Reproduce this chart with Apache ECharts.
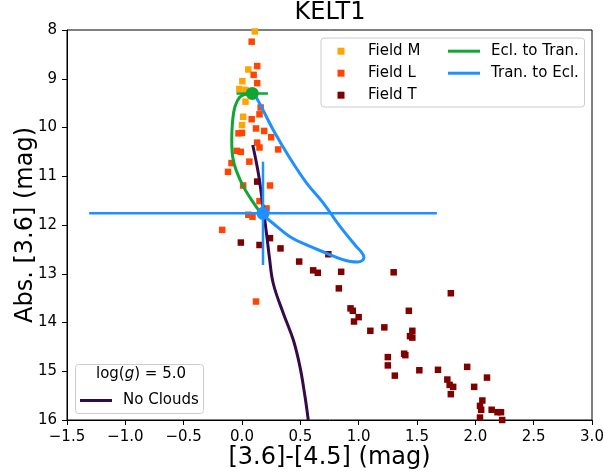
<!DOCTYPE html>
<html>
<head>
<meta charset="utf-8">
<script src="https://cdn.jsdelivr.net/npm/echarts@6/dist/echarts.min.js"></script>
<style>
  html, body { margin: 0; padding: 0; background: #fff; }
  #chart { width: 603px; height: 473px; }
</style>
</head>
<body>
<div id="chart"></div>
<script>
// field brown dwarfs, colour vs absolute [3.6]
var fieldMX = [0.11, 0.054, 0.003, -0.023, 0.03, 0.03, 0.01, 0.0];
var fieldMY = [8.03, 8.81, 9.05, 9.21, 9.23, 9.47, 9.78, 9.95];

var fieldLX = [0.083, 0.13, 0.10, 0.13, 0.16, 0.15, 0.083, 0.12, 0.19, 0.25, -0.03, 0.0, 0.13, 0.15,
               0.31, -0.045, -0.01, 0.063, -0.09, -0.12, 0.01, 0.24, 0.15, 0.21, 0.054, 0.09, -0.17, 0.12];
var fieldLY = [8.24, 8.74, 8.92, 9.09, 9.59, 9.73, 9.83, 10.02, 10.07, 10.2, 10.12, 10.11, 10.31, 10.41,
               10.45, 10.48, 10.5, 10.70, 10.73, 10.91, 11.19, 11.19, 11.51, 11.66, 11.79, 11.83, 12.10, 13.57];

var fieldTX = [0.13, -0.01, 0.15, 0.24, 0.33, 0.74, 0.49, 0.61, 0.65, 0.85, 1.30, 0.83, 1.79, 0.93, 0.95,
               1.0, 0.96, 1.43, 1.10, 1.22, 1.46, 1.44, 1.46, 1.39, 1.40, 1.25, 1.25, 1.31, 1.52, 1.68,
               1.93, 2.10, 1.76, 1.78, 1.81, 1.79, 1.99, 2.06, 2.04, 2.05, 2.14, 2.19, 2.22, 2.04, 2.23];
var fieldTY = [11.11, 12.36, 12.41, 12.27, 12.48, 12.60, 12.75, 12.93, 12.98, 12.96, 12.97, 13.30, 13.40, 13.71, 13.76,
               13.89, 13.98, 13.76, 14.17, 14.10, 14.17, 14.28, 14.31, 14.64, 14.67, 14.71, 14.88, 15.09, 14.98, 14.97,
               14.91, 15.13, 15.17, 15.28, 15.32, 15.47, 15.32, 15.60, 15.71, 15.79, 15.79, 15.84, 15.84, 15.95, 16.0];

// phase curves of KELT1
var eclX = [0.088, 0.03, -0.02, -0.06, -0.08, -0.088, -0.075, -0.003, 0.083, 0.154, 0.18];
var eclY = [9.30, 9.32, 9.38, 9.57, 9.85, 10.26, 10.67, 11.14, 11.49, 11.73, 11.79];

var tranX = [0.088, 0.126, 0.268, 0.411, 0.554, 0.697, 0.840, 0.983, 1.025, 1.045, 1.03, 0.99, 0.93, 0.85, 0.726, 0.554, 0.411, 0.268, 0.18];
var tranY = [9.30, 9.40, 10.05, 10.63, 11.14, 11.55, 12.03, 12.45, 12.56, 12.66, 12.73, 12.76, 12.75, 12.70, 12.58, 12.41, 12.24, 11.97, 11.79];

// model track, log(g) = 5.0
var noCloudX = [0.092, 0.14, 0.18, 0.217, 0.234, 0.268, 0.354, 0.44, 0.497, 0.54, 0.568];
var noCloudY = [10.36, 10.94, 11.62, 12.31, 12.65, 13.20, 13.81, 14.36, 14.91, 15.52, 16.0];

// KELT1 points: [x, y, xerr, yerr]
var eclPoint = [0.088, 9.30, 0.135, 0.1];
var tranPoint = [0.18, 11.76, 1.49, 1.06];

var xMin = -1.5, xMax = 3.0, xStep = 0.5;
var yMin = 8, yMax = 16, yStep = 1;

var GREEN = '#12a534', BLUE = '#1e90ff', PURPLE = '#360a4a';
var FONT = 'DejaVu Sans';

function zip(a, b) {
  var out = [];
  for (var i = 0; i < a.length; i++) out.push([a[i], b[i]]);
  return out;
}

function errBar(color) {
  return function (params, api) {
    var x = api.value(0), y = api.value(1), ex = api.value(2), ey = api.value(3);
    var l = api.coord([x - ex, y]), r = api.coord([x + ex, y]);
    var t = api.coord([x, y - ey]), b = api.coord([x, y + ey]);
    var st = { stroke: color, lineWidth: 2.5 };
    return { type: 'group', children: [
      { type: 'line', shape: { x1: l[0], y1: l[1], x2: r[0], y2: r[1] }, style: st },
      { type: 'line', shape: { x1: t[0], y1: t[1], x2: b[0], y2: b[1] }, style: st }
    ] };
  };
}

var chart = echarts.init(document.getElementById('chart'));

var option = {
  animation: false,
  textStyle: { fontFamily: FONT },
  title: {
    text: 'KELT1', left: 330, top: 1, padding: 0, textAlign: 'center',
    textStyle: { fontFamily: FONT, fontSize: 24, fontWeight: 'normal', color: '#000' }
  },
  grid: {
    left: 67, right: 11, top: 30, bottom: 53, outerBoundsMode: 'none', containLabel: false,
    show: true, borderColor: '#000', borderWidth: 1, backgroundColor: 'transparent'
  },
  xAxis: {
    type: 'value', min: xMin, max: xMax, interval: xStep,
    name: '[3.6]-[4.5] (mag)', nameLocation: 'middle', nameGap: 26, nameMoveOverlap: false,
    nameTextStyle: { fontFamily: FONT, fontSize: 24, color: '#000' },
    axisLine: { onZero: false, lineStyle: { color: '#000', width: 1 } },
    axisTick: { length: 5, lineStyle: { color: '#000' } },
    axisLabel: {
      fontFamily: FONT, fontSize: 15, color: '#000', margin: 10,
      formatter: function (v) { return v.toFixed(1).replace('-', '\u2212'); }
    },
    splitLine: { show: false }
  },
  yAxis: {
    type: 'value', min: yMin, max: yMax, interval: yStep, inverse: true,
    name: 'Abs. [3.6] (mag)', nameLocation: 'middle', nameGap: 29, nameMoveOverlap: false,
    nameTextStyle: { fontFamily: FONT, fontSize: 24, color: '#000' },
    axisLine: { onZero: false, lineStyle: { color: '#000', width: 1 } },
    axisTick: { length: 5, lineStyle: { color: '#000' } },
    axisLabel: { fontFamily: FONT, fontSize: 15, color: '#000', margin: 10 },
    splitLine: { show: false }
  },
  legend: [
    {
      data: ['Field M', 'Field L', 'Field T'], orient: 'vertical',
      left: 337.5, top: 43.7, padding: 0, itemGap: 7,
      icon: 'rect', itemWidth: 7, itemHeight: 7, selectedMode: false,
      itemStyle: { borderWidth: 0, opacity: 1 },
      textStyle: { fontFamily: FONT, fontSize: 15, color: '#000', lineHeight: 14, padding: [0, 0, 0, 18.5] }
    },
    {
      data: ['Ecl. to Tran.', 'Tran. to Ecl.'], orient: 'vertical',
      left: 448, top: 43.7, padding: 0, itemGap: 7,
      icon: 'rect', itemWidth: 32, itemHeight: 3, selectedMode: false,
      itemStyle: { borderWidth: 0 },
      textStyle: { fontFamily: FONT, fontSize: 15, color: '#000', lineHeight: 14, padding: [0, 0, 0, 6] }
    },
    {
      data: ['No Clouds'], orient: 'vertical',
      left: 80, top: 393, padding: 0,
      icon: 'rect', itemWidth: 32, itemHeight: 3, selectedMode: false,
      itemStyle: { borderWidth: 0 },
      textStyle: { fontFamily: FONT, fontSize: 15, color: '#000', lineHeight: 14, padding: [0, 0, 0, 6] }
    }
  ],
  graphic: [
    {
      type: 'rect', left: 320.5, top: 37.5, z: 3,
      shape: { width: 263.5, height: 69, r: 3 },
      style: { fill: 'rgba(255,255,255,0.8)', stroke: '#cccccc', lineWidth: 1 }
    },
    {
      type: 'rect', left: 75, top: 364, z: 3,
      shape: { width: 128, height: 49, r: 3 },
      style: { fill: 'rgba(255,255,255,0.8)', stroke: '#cccccc', lineWidth: 1 }
    },
    {
      type: 'text', left: 96, top: 367, z: 5,
      style: {
        text: 'log({i|g}) = 5.0',
        fontFamily: FONT, fontSize: 15, fill: '#000',
        rich: { i: { fontFamily: FONT, fontSize: 15, fontStyle: 'italic', fill: '#000' } }
      }
    }
  ],
  series: [
    {
      name: 'Field M', type: 'scatter', symbol: 'rect', symbolSize: 6.5, z: 2,
      itemStyle: { color: '#ffa500', opacity: 1 }, data: zip(fieldMX, fieldMY)
    },
    {
      name: 'Field L', type: 'scatter', symbol: 'rect', symbolSize: 6.5, z: 2,
      itemStyle: { color: '#ff4500', opacity: 1 }, data: zip(fieldLX, fieldLY)
    },
    {
      name: 'Field T', type: 'scatter', symbol: 'rect', symbolSize: 6.5, z: 2,
      itemStyle: { color: '#800000', opacity: 1 }, data: zip(fieldTX, fieldTY)
    },
    {
      name: 'Ecl. to Tran.', type: 'line', showSymbol: false, symbol: 'none', smooth: 0.4, z: 3,
      lineStyle: { color: GREEN, width: 3 }, itemStyle: { color: GREEN }, data: zip(eclX, eclY)
    },
    {
      name: 'Tran. to Ecl.', type: 'line', showSymbol: false, symbol: 'none', smooth: 0.4, z: 3,
      lineStyle: { color: BLUE, width: 3 }, itemStyle: { color: BLUE }, data: zip(tranX, tranY)
    },
    {
      name: 'No Clouds', type: 'line', showSymbol: false, symbol: 'none', smooth: 0.4, z: 3,
      lineStyle: { color: PURPLE, width: 3 }, itemStyle: { color: PURPLE }, data: zip(noCloudX, noCloudY)
    },
    {
      type: 'custom', renderItem: errBar(GREEN), z: 4, data: [eclPoint]
    },
    {
      type: 'custom', renderItem: errBar(BLUE), z: 4, data: [tranPoint]
    },
    {
      type: 'scatter', symbol: 'circle', symbolSize: 13, z: 5,
      itemStyle: { color: GREEN, opacity: 1 }, data: [[eclPoint[0], eclPoint[1]]]
    },
    {
      type: 'scatter', symbol: 'circle', symbolSize: 13, z: 5,
      itemStyle: { color: BLUE, opacity: 1 }, data: [[tranPoint[0], tranPoint[1]]]
    }
  ]
};

chart.setOption(option);
</script>
</body>
</html>
